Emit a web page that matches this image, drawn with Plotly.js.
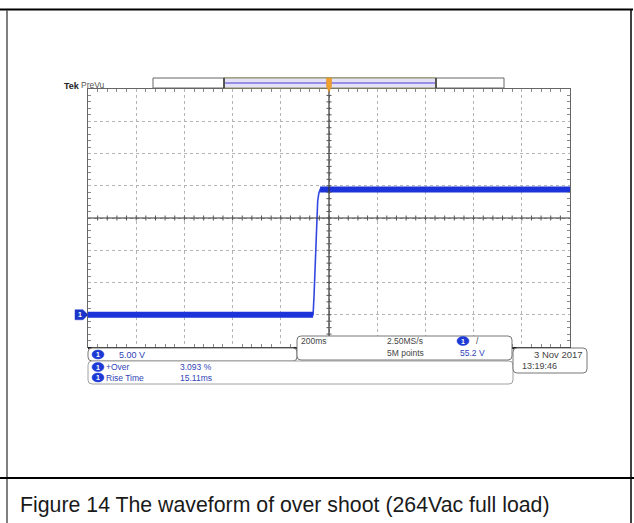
<!DOCTYPE html>
<html>
<head>
<meta charset="utf-8">
<script src="https://cdn.plot.ly/plotly-3.0.1.min.js"></script>
<style>
  html, body { margin: 0; padding: 0; background: #fff; }
  #scope { width: 634px; height: 523px; }
</style>
</head>
<body>
<div id="scope"></div>
<script>
// Captured step response, channel 1 (time in seconds from the trigger, volts)
const timeS = [-1.0, -0.066, -0.062, -0.057, -0.052, -0.047, -0.042, -0.037, -0.030, 1.0];
const volts = [0.0, 0.0, 3.0, 8.5, 14.0, 17.6, 18.9, 19.4, 19.4, 19.4];
const lowLevel = 0.0;
const highLevel = 19.4;

// Scope settings and readouts
const voltsPerDiv = 5;
const secPerDiv = 0.2;
const groundDivs = -3;            // ground marker, divisions below centre
const chScale = "5.00 V";
const measureNames = ["+Over", "Rise Time"];
const measureValues = ["3.093 %", "15.11ms"];
const horizScale = "200ms";
const sampleRate = "2.50MS/s";
const recordLen = "5M points";
const trigLevel = "55.2 V";
const dateText = "3 Nov 2017";
const timeText = "13:19:46";
const caption = "Figure 14 The waveform of over shoot (264Vac full load)";

// Page geometry (pixels)
const W = 634, H = 523;
const gL = 88, gR = 570, gT = 89, gB = 347;
const px = x => x / W;
const py = y => 1 - y / H;

const yMid = -groundDivs * voltsPerDiv;
const yRange = [yMid - 4 * voltsPerDiv, yMid + 4 * voltsPerDiv];
const xRange = [-5 * secPerDiv, 5 * secPerDiv];
const yPix = v => gB - (v - yRange[0]) / (yRange[1] - yRange[0]) * (gB - gT);
const xPix = t => gL + (t - xRange[0]) / (xRange[1] - xRange[0]) * (gR - gL);

const traceBlue = "#1b33d8";
const textBlue = "#3044b8";
const font = "Liberation Sans, Arial, sans-serif";

// Plateaus are drawn as a thick noisy band, the edge as a thin line
const bandY = volts.map(v => (v === lowLevel || v === highLevel) ? v : null);

const traces = [
  { x: timeS, y: volts, mode: "lines", line: { color: "#3348e0", width: 1.6 }, hoverinfo: "skip" },
  { x: timeS, y: bandY, mode: "lines", connectgaps: false, line: { color: traceBlue, width: 6 }, hoverinfo: "skip" }
];

const shapes = [];
const annotations = [];

function pline(x0, y0, x1, y1, color, width) {
  shapes.push({ type: "line", xref: "paper", yref: "paper", x0: px(x0), x1: px(x1), y0: py(y0), y1: py(y1), line: { color: color, width: width } });
}

// Centre crosshair with fine ticks
const cx = xPix(0), cy = (gT + gB) / 2;
pline(cx, gT, cx, gB, "#333", 1.2);
pline(gL, cy, gR, cy, "#333", 1.2);
for (let i = 1; i < 40; i++) {
  const y = gT + i * (gB - gT) / 40;
  pline(cx - 2.5, y, cx + 2.5, y, "#555", 1);
}
for (let i = 1; i < 50; i++) {
  const x = gL + i * (gR - gL) / 50;
  pline(x, cy - 2.5, x, cy + 2.5, "#555", 1);
}
// Heavy bottom edge of graticule
pline(gL, gB + 1, gR + 1, gB + 1, "#222", 2);

// Record view bar across the top
shapes.push({ type: "rect", xref: "paper", yref: "paper", x0: px(153), x1: px(504), y0: py(88), y1: py(78), fillcolor: "#ffffff", line: { color: "#666", width: 1 } });
shapes.push({ type: "rect", xref: "paper", yref: "paper", x0: px(224), x1: px(436), y0: py(88), y1: py(78), fillcolor: "#e4e2f6", line: { color: "#8f8f60", width: 1 } });
pline(225, 83, 435, 83, "#7f72dc", 1.5);
pline(224, 78, 224, 88, "#333", 1.5);
pline(436, 78, 436, 88, "#333", 1.5);
// Trigger position marker
shapes.push({ type: "path", xref: "paper", yref: "paper",
  path: `M ${px(cx - 2.5)} ${py(78)} L ${px(cx + 2.5)} ${py(78)} L ${px(cx + 2.5)} ${py(86)} L ${px(cx)} ${py(92)} L ${px(cx - 2.5)} ${py(86)} Z`,
  fillcolor: "#f0a030", line: { color: "#e08a10", width: 0.5 } });

function label(x, y, text, color, anchor, size) {
  annotations.push({ xref: "paper", yref: "paper", x: px(x), y: py(y), text: text, showarrow: false,
    xanchor: anchor || "left", yanchor: "middle", font: { family: font, size: size || 8.5, color: color || "#333" } });
}

// Channel 1 ground marker
const g = yPix(lowLevel);
shapes.push({ type: "path", xref: "paper", yref: "paper",
  path: `M ${px(75)} ${py(g - 5)} L ${px(83)} ${py(g - 5)} L ${px(88)} ${py(g)} L ${px(83)} ${py(g + 5)} L ${px(75)} ${py(g + 5)} Z`,
  fillcolor: "#1c35c8", line: { color: "#1c35c8", width: 0.5 } });
label(80, g, "<b>1</b>", "#ffffff", "center", 7);

// Readout boxes with rounded corners
function box(x0, y0, x1, y1, color, r) {
  r = r === undefined ? 3 : r;
  const p = `M ${px(x0 + r)} ${py(y0)} L ${px(x1 - r)} ${py(y0)} Q ${px(x1)} ${py(y0)} ${px(x1)} ${py(y0 + r)} ` +
            `L ${px(x1)} ${py(y1 - r)} Q ${px(x1)} ${py(y1)} ${px(x1 - r)} ${py(y1)} ` +
            `L ${px(x0 + r)} ${py(y1)} Q ${px(x0)} ${py(y1)} ${px(x0)} ${py(y1 - r)} ` +
            `L ${px(x0)} ${py(y0 + r)} Q ${px(x0)} ${py(y0)} ${px(x0 + r)} ${py(y0)} Z`;
  shapes.push({ type: "path", xref: "paper", yref: "paper", path: p, fillcolor: "#ffffff", line: { color: color || "#8a8a8a", width: 1 } });
}
function badge(x, y) {
  shapes.push({ type: "circle", xref: "paper", yref: "paper", x0: px(x - 6), x1: px(x + 6), y0: py(y + 4.5), y1: py(y - 4.5), fillcolor: "#1e3ad6", line: { color: "#1e3ad6", width: 0.5 } });
  label(x, y, "<b>1</b>", "#ffffff", "center", 7);
}

box(88, 348, 297, 361, "#777", 4);
badge(98, 354.5);
label(117, 354.5, chScale, textBlue, "left", 9);

box(88, 361, 513, 384, "#a0a0a0", 4);
measureNames.forEach((name, i) => {
  const y = 367 + i * 10.5;
  badge(98, y);
  label(104, y, name, textBlue, "left", 8.5);
  label(178, y, measureValues[i], textBlue, "left", 8.5);
});

box(297, 336, 512, 360, "#777", 4);
label(299, 341, horizScale, "#444");
label(385, 341, sampleRate, "#444");
label(385, 353, recordLen, "#444");
badge(463, 341);
label(474, 341, "/", "#444");
label(458, 353, trigLevel, textBlue);

box(513, 348, 587, 373, "#777", 4);
label(585, 354, dateText, "#444", "right", 9.5);
label(520, 366, timeText, "#444", "left", 9);

// Brand header
label(62, 85.5, "<b>Tek</b>", "#222", "left", 9);
label(79, 85, "PreVu", "#555", "left", 8.5);

// Surrounding table cell and caption row
pline(0, 9.5, 633, 9.5, "#000", 2);
pline(7, 10, 7, H, "#555", 1.5);
pline(631, 9, 631, H, "#000", 1.5);
pline(0, 478, W, 478, "#000", 2);
label(18, 505, caption, "#1a1a1a", "left", 21.3);

const gridAxis = {
  showgrid: true, griddash: "dot", gridcolor: "#b4b4b4", gridwidth: 1,
  zeroline: false, showticklabels: false,
  showline: true, linecolor: "#666", linewidth: 1, mirror: "ticks",
  ticks: "inside", ticklen: 0, tickcolor: "#777",
  fixedrange: true
};

const layout = {
  width: W, height: H,
  margin: { l: 0, r: 0, t: 0, b: 0 },
  paper_bgcolor: "#fff", plot_bgcolor: "#fff",
  showlegend: false,
  xaxis: Object.assign({}, gridAxis, {
    domain: [px(gL), px(gR)], range: xRange, dtick: secPerDiv, tick0: 0,
    minor: { ticks: "inside", dtick: secPerDiv / 5, ticklen: 3, tickcolor: "#888", showgrid: false }
  }),
  yaxis: Object.assign({}, gridAxis, {
    domain: [py(gB), py(gT)], range: yRange, dtick: voltsPerDiv, tick0: 0,
    minor: { ticks: "inside", dtick: voltsPerDiv / 5, ticklen: 3, tickcolor: "#888", showgrid: false }
  }),
  shapes: shapes,
  annotations: annotations
};

Plotly.newPlot("scope", traces, layout, { staticPlot: true, displayModeBar: false });
</script>
</body>
</html>
